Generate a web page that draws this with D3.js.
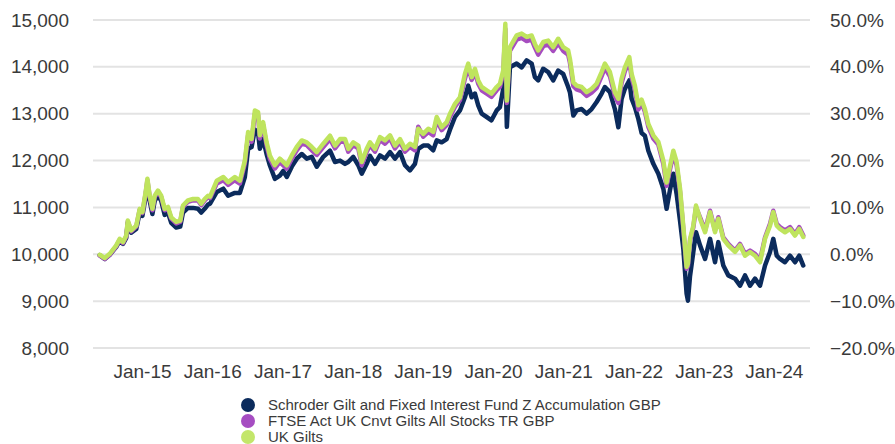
<!DOCTYPE html>
<html>
<head>
<meta charset="utf-8">
<script src="https://cdn.jsdelivr.net/npm/d3@7"></script>
<style>
  body { margin: 0; background: #fff; }
  svg text { font-family: "Liberation Sans", Arial, sans-serif; fill: #3a3a3a; }
</style>
</head>
<body>
<svg id="chart" width="895" height="444"></svg>
<script>
// dates of the traced points (roughly every 2-4 weeks)
const dates = [
"2014-05-26","2014-06-21","2014-07-17","2014-08-20","2014-09-07","2014-09-24","2014-10-11","2014-10-19","2014-11-06","2014-12-02",
"2014-12-20","2015-01-03","2015-01-20","2015-01-29","2015-02-10","2015-02-24","2015-03-08","2015-03-25","2015-04-11","2015-04-29",
"2015-05-16","2015-06-02","2015-06-28","2015-07-19","2015-08-02","2015-08-28","2015-09-23","2015-10-19","2015-11-05","2015-11-23",
"2015-12-10","2015-12-21","2016-01-25","2016-02-28","2016-03-24","2016-04-28","2016-05-24","2016-06-19","2016-07-06","2016-07-24",
"2016-08-10","2016-08-27","2016-09-05","2016-09-22","2016-10-10","2016-10-27","2016-11-22","2016-12-18","2017-01-05","2017-01-23",
"2017-02-18","2017-03-16","2017-04-11","2017-05-07","2017-06-02","2017-06-28","2017-08-01","2017-09-05","2017-10-01","2017-10-27",
"2017-11-22","2017-12-09","2018-01-04","2018-01-30","2018-02-17","2018-03-15","2018-04-01","2018-04-27","2018-05-23","2018-06-18",
"2018-07-14","2018-08-09","2018-09-04","2018-09-30","2018-10-26","2018-11-21","2018-12-08","2019-01-03","2019-01-29","2019-02-24",
"2019-03-14","2019-04-09","2019-05-05","2019-05-22","2019-06-17","2019-07-13","2019-08-08","2019-08-25","2019-09-12","2019-09-29",
"2019-10-16","2019-11-03","2019-11-29","2019-12-24","2020-01-20","2020-02-06","2020-02-23","2020-03-05","2020-03-13","2020-03-29",
"2020-05-03","2020-05-29","2020-06-24","2020-07-20","2020-08-06","2020-08-23","2020-09-18","2020-10-14","2020-11-09","2020-12-05",
"2020-12-31","2021-01-26","2021-02-04","2021-02-22","2021-03-11","2021-04-06","2021-05-02","2021-05-28","2021-06-23","2021-07-19",
"2021-08-05","2021-08-31","2021-09-26","2021-10-14","2021-10-31","2021-11-17","2021-12-10","2021-12-22","2022-01-08","2022-01-26",
"2022-02-12","2022-03-01","2022-03-19","2022-04-14","2022-05-10","2022-06-05","2022-06-22","2022-07-09","2022-07-27","2022-08-13",
"2022-08-31","2022-09-17","2022-10-04","2022-10-11","2022-10-22","2022-11-08","2022-11-22","2022-12-13","2023-01-08","2023-02-03",
"2023-03-01","2023-03-18","2023-04-13","2023-05-09","2023-06-13","2023-07-09","2023-08-04","2023-08-30","2023-09-25","2023-10-21",
"2023-11-16","2023-12-12","2023-12-29","2024-01-16","2024-02-02","2024-02-28","2024-03-25","2024-04-20","2024-05-12","2024-06-02"
];

const schroderFund = [
9980,9900,9990,10160,10290,10220,10350,10670,10460,10540,
10890,10820,11230,11440,11140,10860,11140,11250,11140,10840,
10890,10670,10570,10590,10890,10990,10990,10970,10890,10970,
11060,11080,11330,11400,11250,11310,11310,11650,12250,12290,
12660,12590,12250,12460,12140,11900,11610,11680,11780,11650,
11870,12040,12140,12040,12080,11870,12080,12210,11970,12000,
11930,11970,12080,11900,11720,11930,12100,11930,12110,12040,
12180,12040,12180,11900,11790,11930,12250,12320,12320,12220,
12430,12390,12460,12660,12930,13070,13350,13600,13350,13430,
13180,13000,12930,12860,13070,13140,13530,14040,12720,13990,
14070,13990,14140,14070,13780,13710,13960,13890,13710,13920,
13850,13570,13460,12960,13070,13100,13000,13100,13250,13430,
13570,13460,13100,12710,13320,13530,13710,13320,13140,12890,
12590,12530,12210,11930,11720,11400,10970,11360,11720,11290,
10710,10120,9160,9010,9540,10050,10470,10190,9900,10330,
9830,10260,9760,9550,9480,9330,9550,9330,9480,9330,
9760,10050,10330,9970,9900,9830,9970,9830,9970,9760
];

const ftseGilts = [
9970,9900,9990,10170,10310,10240,10380,10700,10490,10590,
10950,10880,11300,11580,11220,10940,11220,11330,11220,10940,
10980,10760,10660,10690,11010,11120,11150,11150,11050,11150,
11220,11200,11510,11580,11480,11580,11510,11940,12540,12400,
13000,12970,12470,12760,12330,12040,11830,11970,11900,11830,
12040,12220,12360,12330,12220,12120,12290,12460,12260,12400,
12400,12190,12330,12260,11900,12190,12330,12190,12440,12360,
12470,12260,12400,12190,12290,12220,12720,12510,12610,12540,
12860,12650,12760,12930,13150,13290,13750,14000,13720,13890,
13640,13500,13430,13360,13500,13570,13850,14810,13230,14340,
14580,14620,14550,14580,14410,14260,14440,14480,14340,14510,
14340,14260,14090,13590,13520,13480,13380,13450,13550,13800,
13980,13800,13380,13230,13660,13910,14120,13770,13520,13090,
13230,13040,12720,12470,12340,11930,11460,11800,12140,11900,
11330,10540,9690,9750,10290,10570,11000,10790,10510,10930,
10510,10790,10360,10220,10080,10220,10010,10080,10010,9870,
10360,10650,10930,10650,10580,10510,10580,10430,10580,10400
];

const ukGilts = [
9990,9920,10010,10190,10330,10260,10400,10720,10510,10610,
10970,10900,11330,11610,11250,10970,11250,11360,11250,10970,
11010,10790,10690,10720,11040,11150,11180,11180,11080,11180,
11250,11230,11570,11650,11540,11650,11570,12000,12610,12460,
13070,13030,12540,12820,12390,12110,11900,12040,11970,11900,
12110,12290,12430,12390,12290,12180,12360,12530,12320,12460,
12460,12250,12390,12320,11970,12250,12390,12250,12500,12430,
12540,12320,12460,12250,12360,12290,12680,12570,12680,12610,
12930,12710,12820,13000,13210,13350,13850,14070,13780,13960,
13710,13570,13500,13430,13570,13640,13920,14920,13280,14420,
14670,14710,14640,14670,14490,14350,14530,14560,14420,14600,
14420,14350,14170,13670,13600,13570,13460,13530,13640,13890,
14070,13890,13460,13320,13750,13990,14210,13850,13600,13180,
13300,13100,12780,12540,12400,12000,11530,11870,12210,11970,
11400,10590,9730,9800,10330,10610,11040,10760,10470,10900,
10470,10760,10330,10190,10050,10190,9970,10050,9970,9830,
10330,10610,10900,10610,10540,10470,10540,10400,10540,10370
];

const seriesNames = [
  "Schroder Gilt and Fixed Interest Fund Z Accumulation GBP",
  "FTSE Act UK Cnvt Gilts All Stocks TR GBP",
  "UK Gilts"
];
const lineColors = ["#0b2b5c", "#a64dbf", "#bfe45e"];
const dotColors = ["#0b2b5c", "#a64dc2", "#c3e66a"];

const leftTicks = [8000, 9000, 10000, 11000, 12000, 13000, 14000, 15000];
const rightTicks = [-0.2, -0.1, 0, 0.1, 0.2, 0.3, 0.4, 0.5];
const xDomain = ["2014-04-21", "2024-07-07"];

const svg = d3.select("#chart");
const plot = { left: 93, right: 810, top: 20, bottom: 348 };
const parse = d3.timeParse("%Y-%m-%d");

const x = d3.scaleTime().domain(xDomain.map(parse)).range([plot.left, plot.right]);
const y = d3.scaleLinear().domain([8000, 15000]).range([plot.bottom, plot.top]);
const yPct = d3.scaleLinear().domain([-0.2, 0.5]).range([plot.bottom, plot.top]);

// gridlines
svg.append("g")
  .selectAll("line")
  .data(leftTicks)
  .join("line")
  .attr("x1", plot.left).attr("x2", plot.right)
  .attr("y1", d => y(d)).attr("y2", d => y(d))
  .attr("stroke", "#e3e3e3")
  .attr("stroke-width", 2);

const yAxisL = svg.append("g")
  .attr("transform", `translate(${plot.left - 9},0)`)
  .call(d3.axisLeft(y).tickValues(leftTicks).tickFormat(d3.format(",")).tickSize(0).tickPadding(15));
const yAxisR = svg.append("g")
  .attr("transform", `translate(${plot.right + 4},0)`)
  .call(d3.axisRight(yPct).tickValues(rightTicks).tickFormat(d3.format(".1%")).tickSize(0).tickPadding(16));
const xAxis = svg.append("g")
  .attr("transform", `translate(0,${plot.bottom + 8})`)
  .call(d3.axisBottom(x).ticks(d3.timeYear.every(1)).tickFormat(d3.timeFormat("%b-%y")).tickSize(0).tickPadding(9));

[yAxisL, yAxisR, xAxis].forEach(a => {
  a.select(".domain").remove();
  a.selectAll("text").attr("font-size", 19).attr("fill", "#3a3a3a")
    .style("font-family", '"Liberation Sans", Arial, sans-serif');
});
xAxis.selectAll(".tick").filter(d => d < parse("2015-01-01") || d > parse("2024-06-01")).remove();

const rows = dates.map((d, i) => ({
  date: parse(d),
  vals: [schroderFund[i], ftseGilts[i], ukGilts[i]]
}));

const line = k => d3.line()
  .x(d => x(d.date))
  .y(d => y(d.vals[k]));

[0, 1, 2].forEach(k => {
  svg.append("path")
    .datum(rows)
    .attr("fill", "none")
    .attr("stroke", lineColors[k])
    .attr("stroke-width", 4.5)
    .attr("stroke-linejoin", "round")
    .attr("stroke-linecap", "round")
    .attr("d", line(k));
});

// legend
const legend = svg.append("g").attr("transform", "translate(248,405)");
seriesNames.forEach((name, i) => {
  const g = legend.append("g").attr("transform", `translate(0,${i * 16})`);
  g.append("circle").attr("r", 7).attr("fill", dotColors[i]);
  g.append("text").attr("x", 20).attr("dy", "0.35em")
    .attr("font-size", 15).text(name);
});
</script>
</body>
</html>
